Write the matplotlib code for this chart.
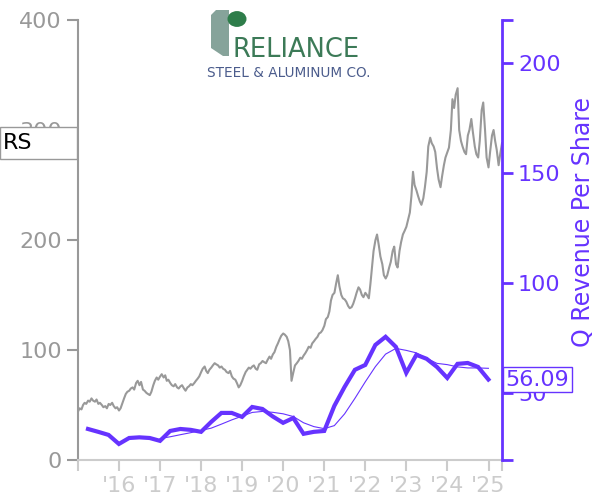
import numpy as np
import pandas as pd
import matplotlib
matplotlib.use('Agg')
import matplotlib.pyplot as plt
import matplotlib.transforms as mtransforms
from matplotlib.patches import Rectangle, Circle, Polygon

# share price, 1st and 15th of each month
price_2015 = [44, 47, 46, 50, 52, 51, 54, 53, 56, 54, 53, 55, 51, 52, 50, 48, 49, 47, 51, 50, 52, 49, 47, 48]
price_2016 = [45, 47, 52, 56, 60, 62, 63, 65, 66, 64, 70, 72, 68, 71, 64, 63, 61, 60, 59, 62, 68, 72, 75, 73]
price_2017 = [76, 78, 75, 77, 72, 73, 70, 68, 67, 69, 66, 65, 67, 68, 65, 63, 66, 67, 69, 68, 70, 72, 74, 76]
price_2018 = [80, 83, 85, 81, 79, 82, 84, 86, 88, 87, 86, 84, 85, 83, 82, 80, 79, 81, 76, 74, 73, 70, 66, 68]
price_2019 = [72, 76, 80, 82, 84, 83, 85, 86, 83, 82, 87, 88, 90, 89, 88, 91, 94, 92, 96, 98, 103, 106, 110, 113]
price_2020 = [115, 114, 112, 108, 100, 72, 80, 86, 88, 90, 93, 92, 95, 97, 100, 103, 102, 106, 108, 110, 112, 115, 116, 118]
price_2021 = [122, 128, 130, 135, 145, 150, 152, 160, 168, 158, 150, 147, 146, 144, 140, 138, 139, 142, 147, 152, 157, 155, 150, 148]
price_2022 = [152, 150, 147, 160, 175, 190, 200, 205, 195, 185, 178, 168, 165, 168, 175, 180, 190, 194, 178, 175, 190, 198, 205, 208]
price_2023 = [212, 218, 225, 240, 262, 250, 245, 240, 235, 232, 238, 248, 262, 285, 293, 288, 285, 280, 265, 255, 248, 258, 268, 275]
price_2024 = [280, 284, 300, 328, 320, 332, 338, 300, 290, 285, 280, 278, 295, 300, 310, 298, 285, 278, 275, 290, 318, 325, 300, 275]
price_2025 = [266, 280, 295, 300, 290, 282, 268, 278, 288]

# quarterly revenue per share, 2015 Q1 .. 2024 Q4
revenue = [33.6, 32.3, 30.9, 26.8,
           29.5, 29.8, 29.5, 28.2,
           32.7, 33.6, 33.2, 32.3,
           36.8, 40.9, 40.9, 39.1,
           43.6, 42.7, 39.3, 36.4,
           38.6, 31.4, 32.3, 32.7,
           44.1, 52.7, 60.5, 62.7,
           71.8, 75.5, 70.9, 59.1,
           67.3, 65.5, 61.8, 56.8,
           63.2, 63.6, 61.8, 56.09]

ticker = 'RS'
years = list(range(2016, 2026))
year_labels = ["'16", "'17", "'18", "'19", "'20", "'21", "'22", "'23", "'24", "'25"]

purple = '#6633ff'
gray = '#999999'
light = '#cccccc'

prices = price_2015 + price_2016 + price_2017 + price_2018 + price_2019 + price_2020 + \
    price_2021 + price_2022 + price_2023 + price_2024 + price_2025
pdates = pd.date_range('2015-01-01', periods=len(prices), freq='SMS')
qdates = pd.date_range('2015-03-31', periods=len(revenue), freq='QE')
rev = pd.Series(revenue, index=qdates)
avg = rev.rolling(4).mean().iloc[7:]

fig = plt.figure(figsize=(6, 5), dpi=100)
ax = fig.add_axes([78 / 600, 40 / 500, 424 / 600, 440 / 500])
ax2 = ax.twinx()

ax.plot(pdates, prices, color=gray, lw=1.5)
ax2.plot(qdates, revenue, color=purple, lw=3, solid_joinstyle='miter')
ax2.plot(avg.index, avg.values, color=purple, lw=0.8)

ax.set_xlim(pdates[0], pdates[-1])
ax.set_ylim(0, 400)
ax2.set_ylim(19.5, 219.5)

ax.set_yticks([0, 100, 200, 300, 400])
ax.set_xticks([pd.Timestamp(f'{y}-01-01') for y in years])
ax.set_xticklabels(year_labels)
ax.set_xticks([pdates[0], pdates[-1]], minor=True)
ax2.set_yticks([50, 100, 150, 200])
ax2.set_yticks([19.5, 219.5], minor=True)

for s in ['top', 'right']:
    ax.spines[s].set_visible(False)
for s in ['top', 'left', 'bottom']:
    ax2.spines[s].set_visible(False)
ax.spines['left'].set_color(gray)
ax.spines['left'].set_linewidth(1.5)
ax.spines['bottom'].set_color(light)
ax.spines['bottom'].set_linewidth(1.5)
ax2.spines['right'].set_color(purple)
ax2.spines['right'].set_linewidth(2)

ax.tick_params(axis='y', colors=gray, labelsize=16, length=8, width=1.5)
ax.tick_params(axis='x', which='both', colors=light, labelsize=16, length=8, width=1.5)
ax2.tick_params(axis='y', which='both', colors=purple, labelsize=16, length=8, width=2)
ax2.set_ylabel('Q Revenue Per Share', color=purple, fontsize=17, labelpad=4)
ax2.yaxis.set_label_coords(1.162, 0.54)

# ticker box on the left at the last price
tr = mtransforms.blended_transform_factory(fig.transFigure, ax.transData)
last = prices[-1]
ax.add_patch(Rectangle((0, last - 14.5), 77 / 600, 29, transform=tr, clip_on=False,
                       facecolor='white', edgecolor=gray, lw=1, zorder=5))
ax.text(3 / 600, last, ticker, transform=tr, va='center', ha='left', fontsize=16,
        color='black', zorder=6, clip_on=False)

# last revenue value box on the right
tr2 = mtransforms.blended_transform_factory(ax.transAxes, ax2.transData)
ax2.text(1.008, revenue[-1], f'{revenue[-1]:.2f}', transform=tr2, va='center', ha='left',
         fontsize=16, color=purple, zorder=6,
         bbox=dict(boxstyle='square,pad=0.12', facecolor='white', edgecolor=purple, lw=1))

# logo
def fx(px):
    return px / 600

def fy(py):
    return 1 - py / 500

stem = Polygon([(fx(211), fy(15)), (fx(216), fy(10)), (fx(229), fy(10)), (fx(229), fy(56)),
                (fx(223), fy(56)), (fx(211), fy(48))], closed=True,
               transform=fig.transFigure, facecolor='#86a39a', edgecolor='none')
fig.patches.append(stem)
fig.patches.append(Circle((fx(237), fy(19)), 9.5 / 600, transform=fig.transFigure,
                          facecolor='#2e7d4a', edgecolor='none'))
fig.text(fx(233), fy(50), 'RELIANCE', color='#3c7a57', fontsize=18.5, va='center', ha='left')
fig.text(fx(289), fy(73), 'STEEL & ALUMINUM CO.', color='#4b5c8c', fontsize=9.8,
         va='center', ha='center')

fig.savefig('out.png', dpi=100)
